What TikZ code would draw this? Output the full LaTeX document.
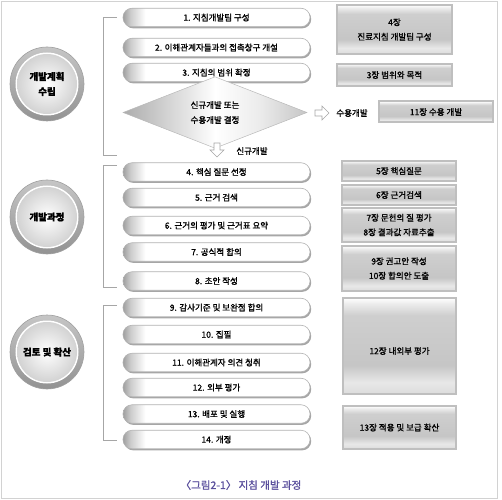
\documentclass[tikz,border=0pt]{standalone}
\usepackage{fontspec}
\setmainfont{Noto Sans CJK KR}[RawFeature={embolden=1.2}]
\usetikzlibrary{shapes.geometric,shadows}
\definecolor{capcol}{HTML}{5A4F9C}
\pgfdeclarehorizontalshading{pillsh}{100bp}{color(0bp)=(gray!75); color(25bp)=(gray!75); color(27bp)=(gray!40); color(31bp)=(white); color(100bp)=(white)}
\pgfdeclareverticalshading{boxsh}{100bp}{color(0bp)=(gray!30); color(25bp)=(gray!28); color(31bp)=(gray!18); color(40bp)=(gray!45); color(66bp)=(gray!38); color(72bp)=(gray!15); color(75bp)=(white); color(100bp)=(white)}
\pgfdeclarehorizontalshading{diash}{100bp}{color(0bp)=(gray!65); color(25bp)=(gray!65); color(42bp)=(gray!22); color(50bp)=(white); color(62bp)=(gray!15); color(75bp)=(gray!45); color(100bp)=(gray!45)}
\begin{document}
\begin{tikzpicture}[x=1bp,y=-1bp,
  txt/.style={font=\fontsize{8.5bp}{10bp}\selectfont, inner sep=0pt},
  pill/.style={txt, rectangle, rounded corners=9bp, minimum width=187bp, minimum height=18.5bp,
    draw=gray!60, line width=0.6bp, shading=pillsh,
    drop shadow={shadow xshift=1.2bp, shadow yshift=-1.6bp, fill=gray!70, opacity=1}},
  sbox/.style={txt, rectangle, draw=gray!50, line width=2bp, shading=boxsh, align=center,
    font=\fontsize{8.5bp}{14.5bp}\selectfont},
  circ/.style={circle, minimum size=74bp, inner sep=0pt, draw=gray!75, line width=0.6bp,
    top color=gray!45, bottom color=gray!85, align=center,
    font=\bfseries\fontsize{9.5bp}{15bp}\selectfont,
    path picture={\fill[white] (path picture bounding box.center) circle (31.5bp);
      \shade[inner color=white, outer color=gray!35] (path picture bounding box.center) circle (30bp);}},
  brk/.style={gray!70, line width=0.8bp},
  harrow/.style={draw=gray!70, fill=white, line width=0.6bp}
]
\useasboundingbox (0,0) rectangle (502,500);
\draw[gray!35, line width=1bp] (1.5,1.5) rectangle (497,498.5);

% circles
\node[circ] (c1) at (47,84) {개발계획\\수립};
\node[circ] (c2) at (47,217) {개발과정};
\node[circ] (c3) at (47,352) {검토 및 확산};

% brackets
\draw[brk] (117,17) -- (103,17) -- (103,155) -- (117,155);
\draw[brk] (117,165) -- (103,165) -- (103,287) -- (117,287);
\draw[brk] (117,305) -- (103,305) -- (103,440) -- (117,440);

% pills
\node[pill] (p1) at (216.5,17.5) {1. 지침개발팀 구성};
\node[pill] (p2) at (216.5,47.5) {2. 이해관계자들과의 접촉창구 개설};
\node[pill] (p3) at (216.5,72.5) {3. 지침의 범위 확정};
\node[diamond, minimum width=184bp, minimum height=51bp, inner sep=0pt, draw=gray!55, line width=0.5bp,
  shading=diash, align=center, font=\fontsize{8.5bp}{15bp}\selectfont] (dm) at (215,112.5) {신규개발 또는\\수용개발 결정};
\node[pill] (p4) at (216.5,172) {4. 핵심 질문 선정};
\node[pill] (p5) at (216.5,197.5) {5. 근거 검색};
\node[pill] (p6) at (216.5,225.5) {6. 근거의 평가 및 근거표 요약};
\node[pill] (p7) at (216.5,252) {7. 공식적 합의};
\node[pill] (p8) at (216.5,281) {8. 초안 작성};
\node[pill] (p9) at (216.5,307.5) {9. 감사기준 및 보완점 합의};
\node[pill] (p10) at (216.5,334.5) {10. 집필};
\node[pill] (p11) at (216.5,362.5) {11. 이해관계자 의견 청취};
\node[pill] (p12) at (216.5,387.5) {12. 외부 평가};
\node[pill] (p13) at (216.5,414) {13. 배포 및 실행};
\node[pill] (p14) at (216.5,439.5) {14. 개정};

% hollow arrows and labels
\draw[harrow] (214,143) -- (220,143) -- (220,150) -- (224,150) -- (217,157) -- (210,150) -- (214,150) -- cycle;
\node[txt] (sin) at (252,151) {신규개발};
\draw[harrow] (315,110) -- (322,110) -- (322,106) -- (329,113) -- (322,120) -- (322,116) -- (315,116) -- cycle;
\node[txt] (suy) at (352,113) {수용개발};

% right boxes
\node[sbox, minimum width=115bp, minimum height=49bp] (bA) at (394.5,29.5) {4장\\진료지침 개발팀 구성};
\node[sbox, minimum width=115bp, minimum height=22bp] (bB) at (394.5,75) {3장 범위와 목적};
\node[sbox, minimum width=114bp, minimum height=21bp] (bC) at (436,112) {11장 수용 개발};
\node[sbox, minimum width=114bp, minimum height=20bp] (bD) at (399,171) {5장 핵심질문};
\node[sbox, minimum width=114bp, minimum height=20bp] (bE) at (399,195) {6장 근거검색};
\node[sbox, minimum width=114bp, minimum height=34bp] (bF) at (399,225) {7장 문헌의 질 평가\\8장 결과값 자료추출};
\node[sbox, minimum width=114bp, minimum height=45bp] (bG) at (399,268.5) {9장 권고안 작성\\10장 합의안 도출};
\node[sbox, minimum width=113bp, minimum height=96bp] (bH) at (399.5,346) {};
\node[txt] (tH) at (399.5,351) {12장 내외부 평가};
\node[sbox, minimum width=113bp, minimum height=43bp] (bI) at (399.5,427.5) {13장 적용 및 보급 확산};

% caption
\node[inner sep=0pt, text=capcol, font=\fontsize{10.5bp}{12bp}\selectfont] (cap) at (241,485) {〈그림2-1〉 지침 개발 과정};
\end{tikzpicture}
\end{document}
